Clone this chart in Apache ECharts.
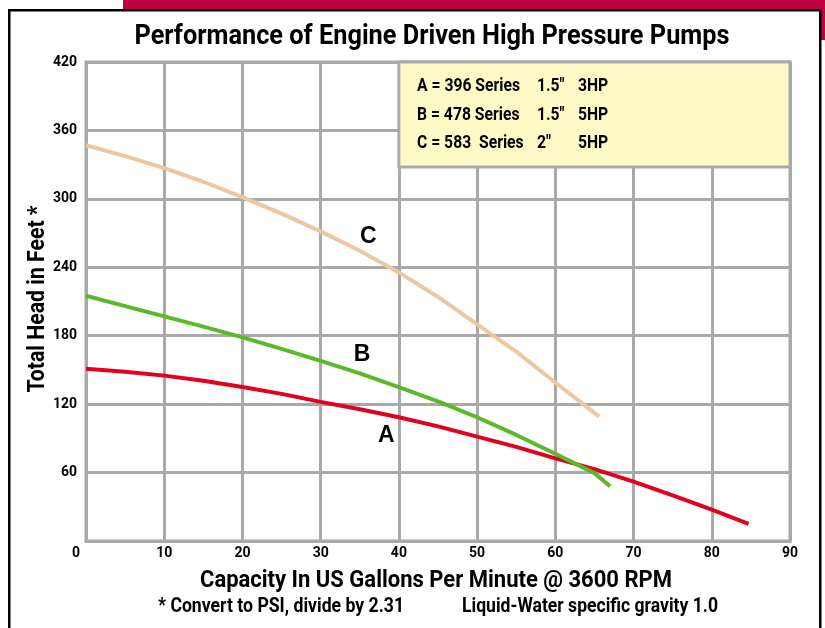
<!DOCTYPE html>
<html>
<head>
<meta charset="utf-8">
<script src="https://cdn.jsdelivr.net/npm/echarts@6/dist/echarts.min.js"></script>
<style>
html,body{margin:0;padding:0;background:#fff;}
#chart{width:825px;height:628px;}
</style>
</head>
<body>
<div id="chart"></div>
<script>
// ---- data ----
const xTicks = [0, 10, 20, 30, 40, 50, 60, 70, 80, 90];
const yTicks = [0, 60, 120, 180, 240, 300, 360, 420];
const gpmA = [0, 5, 10, 15, 20, 25, 30, 35, 40, 45, 50, 55, 60, 65, 70, 75, 80, 84.7];
const headA = [151, 148.5, 145, 140.5, 135, 129, 122, 115.5, 108.5, 100.5, 91.5, 82.5, 72.5, 63, 52, 40, 27.5, 15];
const gpmB = [0, 5, 10, 15, 20, 25, 30, 35, 40, 45, 50, 55, 60, 65, 67];
const headB = [215, 206, 197, 188, 178.5, 168.5, 158, 147, 135, 122.5, 108.5, 93, 76.5, 59.5, 48];
const gpmC = [0, 5, 10, 15, 20, 25, 30, 35, 40, 45, 50, 55, 60, 65.6];
const headC = [347, 337.5, 327, 315, 301.5, 287, 271.5, 254.5, 235.5, 214, 190, 166, 139, 109];
const curveNames = ['A', 'B', 'C'];
const curveLabelPos = [[38.4, 92], [35.3, 163], [36.1, 266.5]];
const legendBox = [[40, 328], [90, 420]];
const legendRows = [
  ['A = 396 Series', '1.5"', '3HP'],
  ['B = 478 Series', '1.5"', '5HP'],
  ['C = 583  Series', '2"', '5HP']
];
const titleText = 'Performance of Engine Driven High Pressure Pumps';
const xName = 'Capacity In US Gallons Per Minute @ 3600 RPM';
const yName = 'Total Head in Feet *';
const note1 = '* Convert to PSI, divide by 2.31';
const note2 = 'Liquid-Water specific gravity 1.0';

// ---- styles ----
const FONT = "Roboto, 'DejaVu Sans', sans-serif";
const GRID_GRAY = '#A9A9A9';
const colors = ['#E2001E', '#5BB82B', '#EDC79F'];

const mctx = document.createElement('canvas').getContext('2d');
function measure(text, font) { mctx.font = font; return mctx.measureText(text).width; }
// horizontally condensed text (reference uses a condensed bold face)
function fitText(text, size, x, y, targetW, align, rotation) {
  const font = 'bold ' + size + 'px ' + FONT;
  const sx = targetW / measure(text, font);
  return {
    type: 'text', x: x, y: y, z: 60, scaleX: sx, rotation: rotation || 0,
    style: { text: text, font: font, fill: '#000', textAlign: align, textVerticalAlign: 'middle' }
  };
}

function zip(xs, ys) { return xs.map((x, i) => [x, ys[i]]); }
const curves = [zip(gpmA, headA), zip(gpmB, headB), zip(gpmC, headC)];

const series = curves.map((d, i) => ({
  type: 'line',
  name: curveNames[i],
  data: d,
  smooth: false,
  showSymbol: false,
  symbol: 'none',
  z: 3,
  lineStyle: { color: colors[i], width: 4, join: 'round', cap: 'butt' },
  markPoint: {
    symbol: 'circle', symbolSize: 0,
    label: { show: true, formatter: curveNames[i], color: '#000', fontFamily: "'Liberation Sans', Arial, sans-serif", fontWeight: 'bold', fontSize: 23, position: 'inside' },
    data: [{ coord: curveLabelPos[i] }]
  }
}));
series.push({
  type: 'line', data: [], z: 5,
  markArea: {
    silent: true,
    itemStyle: { color: '#FFF9C6', borderColor: GRID_GRAY, borderWidth: 3 },
    data: [[{ coord: legendBox[0] }, { coord: legendBox[1] }]]
  }
});

// legend text
const legendFont = 'bold 18px ' + FONT;
const legendScale = 103 / measure(legendRows[0][0], legendFont);
const colX = [417, 537, 578];
const rowY = [86, 115, 143];
const legendGraphics = [];
legendRows.forEach((row, r) => {
  row.forEach((t, c) => {
    legendGraphics.push({
      type: 'text', x: colX[c], y: rowY[r], z: 100, scaleX: legendScale,
      style: { text: t, font: legendFont, fill: '#000', textVerticalAlign: 'middle', textAlign: 'left' }
    });
  });
});

const chart = echarts.init(document.getElementById('chart'), null, { renderer: 'canvas' });
chart.setOption({
  animation: false,
  backgroundColor: '#fff',
  grid: { left: 86, right: 35, top: 62, bottom: 87, show: true, borderColor: GRID_GRAY, borderWidth: 3, backgroundColor: '#fff' },
  xAxis: {
    type: 'value', min: xTicks[0], max: xTicks[xTicks.length - 1], interval: 10,
    axisLine: { show: true, lineStyle: { color: GRID_GRAY, width: 3 } },
    axisTick: { show: false },
    splitLine: { show: true, lineStyle: { color: GRID_GRAY, width: 3 } },
    axisLabel: { fontFamily: FONT, fontWeight: 'bold', fontSize: 14, color: '#000', margin: 5,
      formatter: v => v === 0 ? '{z|0}' : String(v),
      rich: { z: { fontFamily: FONT, fontWeight: 'bold', fontSize: 14, color: '#000', padding: [0, 20, 0, 0] } } }
  },
  yAxis: {
    type: 'value', min: yTicks[0], max: yTicks[yTicks.length - 1], interval: 60,
    axisLine: { show: true, lineStyle: { color: GRID_GRAY, width: 3 } },
    axisTick: { show: false },
    splitLine: { show: true, lineStyle: { color: GRID_GRAY, width: 3 } },
    axisLabel: { fontFamily: FONT, fontWeight: 'bold', fontSize: 14, color: '#000', margin: 9, verticalAlign: 'middle',
      formatter: v => v === 0 ? '' : String(v) }
  },
  series: series,
  graphic: [
    { type: 'rect', shape: { x: 123, y: 0, width: 702, height: 9 }, style: { fill: '#C1003F' }, z: 50 },
    { type: 'rect', shape: { x: 821, y: 0, width: 4, height: 40 }, style: { fill: '#C1003F' }, z: 50 },
    { type: 'rect', shape: { x: 8, y: 9, width: 813, height: 2.5 }, style: { fill: '#000' }, z: 51 },
    { type: 'rect', shape: { x: 8, y: 9, width: 2.5, height: 619 }, style: { fill: '#000' }, z: 51 },
    { type: 'rect', shape: { x: 819, y: 9, width: 2.5, height: 619 }, style: { fill: '#000' }, z: 51 },
    fitText(titleText, 28, 432, 37, 595, 'center'),
    fitText(xName, 24, 436, 581, 472, 'center'),
    fitText(yName, 23, 38, 299, 187, 'center', Math.PI / 2),
    fitText(note1, 20, 158, 607, 246, 'left'),
    fitText(note2, 20, 462, 607, 256, 'left')
  ].concat(legendGraphics)
});
</script>
</body>
</html>
